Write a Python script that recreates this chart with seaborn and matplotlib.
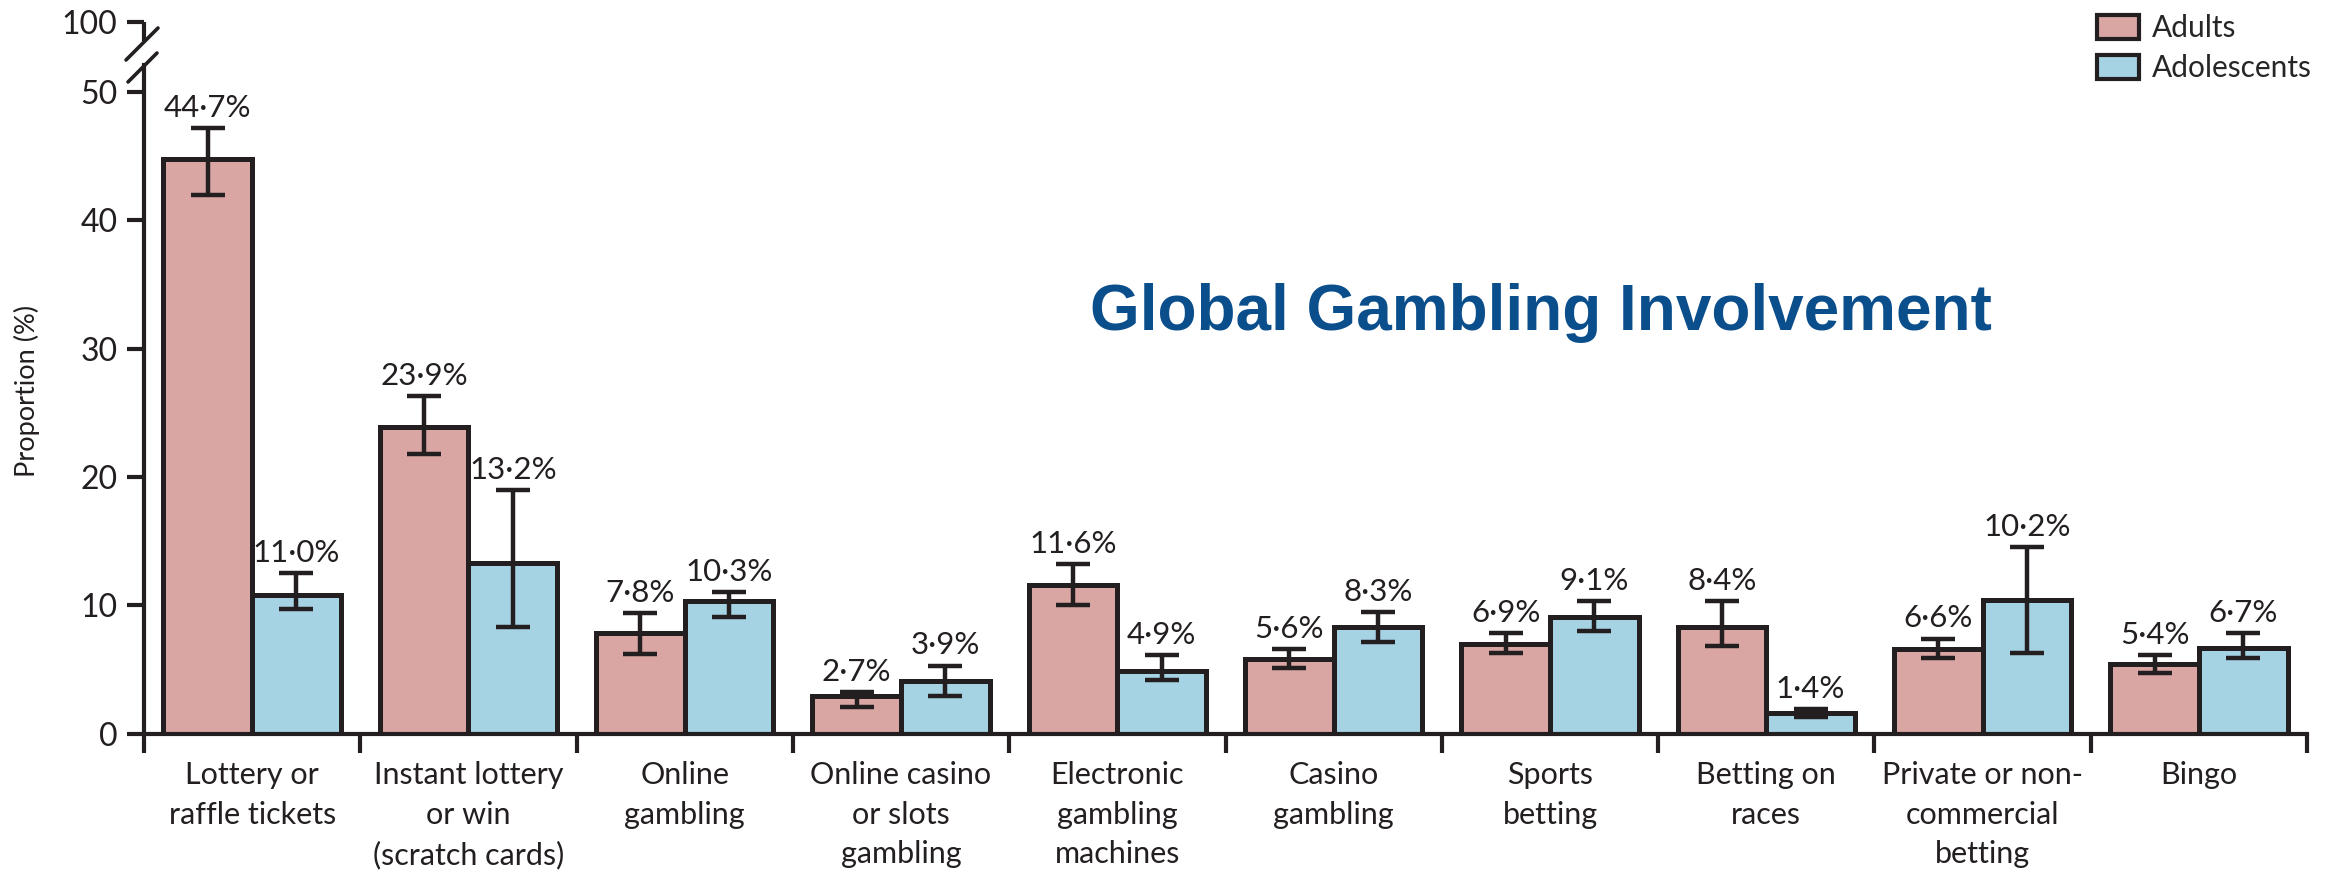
"""
Global gambling involvement: adults vs adolescents, grouped bars with CIs.
"""
import numpy as np
import pandas as pd
import matplotlib
matplotlib.use('Agg')
import matplotlib.pyplot as plt
import seaborn as sns
from matplotlib.lines import Line2D
from matplotlib.transforms import blended_transform_factory

sns.set_style('white')
plt.rcParams['font.family'] = ['Lato', 'DejaVu Sans']

# ──────────────────────────────────────────────────────────────────────
# Data
# ──────────────────────────────────────────────────────────────────────
categories = [
    'Lottery or\nraffle tickets',
    'Instant lottery\nor win\n(scratch cards)',
    'Online\ngambling',
    'Online casino\nor slots\ngambling',
    'Electronic\ngambling\nmachines',
    'Casino\ngambling',
    'Sports\nbetting',
    'Betting on\nraces',
    'Private or non-\ncommercial\nbetting',
    'Bingo',
]
groups = ['Adults', 'Adolescents']

adults = [44.8, 23.9, 7.8, 2.9, 11.6, 5.8, 7.0, 8.3, 6.6, 5.4]
adults_lo = [42.0, 21.8, 6.2, 2.1, 10.0, 5.1, 6.3, 6.8, 5.9, 4.7]
adults_hi = [47.2, 26.3, 9.4, 3.2, 13.2, 6.6, 7.8, 10.3, 7.4, 6.1]
adults_txt = ['44·7%', '23·9%', '7·8%', '2·7%', '11·6%',
              '5·6%', '6·9%', '8·4%', '6·6%', '5·4%']

adolescents = [10.8, 13.3, 10.3, 4.1, 4.9, 8.3, 9.1, 1.6, 10.4, 6.7]
adol_lo = [9.7, 8.3, 9.1, 2.9, 4.2, 7.1, 8.0, 1.3, 6.3, 5.9]
adol_hi = [12.5, 19.0, 11.0, 5.3, 6.1, 9.5, 10.3, 1.9, 14.5, 7.8]
adol_txt = ['11·0%', '13·2%', '10·3%', '3·9%', '4·9%',
            '8·3%', '9·1%', '1·4%', '10·2%', '6·7%']

yticks = [0, 10, 20, 30, 40, 50]

df = pd.DataFrame({
    'Category': categories * 2,
    'Group': [groups[0]] * len(categories) + [groups[1]] * len(categories),
    'Proportion': adults + adolescents,
})

colors = {'Adults': '#d9a6a3', 'Adolescents': '#a6d3e4'}
ink = '#231f20'

# ──────────────────────────────────────────────────────────────────────
# Figure
# ──────────────────────────────────────────────────────────────────────
W, H = 2333, 876
fig = plt.figure(figsize=(W / 100, H / 100), dpi=100)
ax_left, ax_right = 144 / W, 2307 / W
y0_px, px_per_unit = 733.5, 12.83
ymax = 55.6
top_px = y0_px - ymax * px_per_unit
ax = fig.add_axes([ax_left, (H - y0_px) / H, ax_right - ax_left, (y0_px - top_px) / H])

sns.barplot(data=df, x='Category', y='Proportion', hue='Group',
            palette=colors, order=categories, hue_order=groups,
            width=0.82, edgecolor=ink, linewidth=3.6, errorbar=None,
            saturation=1, ax=ax)

ax.set_xlim(-0.5, len(categories) - 0.5)
ax.set_ylim(0, ymax)

# error bars + value labels
for cont, lo, hi, txt in [(ax.containers[0], adults_lo, adults_hi, adults_txt),
                          (ax.containers[1], adol_lo, adol_hi, adol_txt)]:
    xs = [p.get_x() + p.get_width() / 2 for p in cont.patches]
    ys = [p.get_height() for p in cont.patches]
    yerr = [np.array(ys) - np.array(lo), np.array(hi) - np.array(ys)]
    ax.errorbar(xs, ys, yerr=yerr, fmt='none', ecolor=ink, elinewidth=3.2,
                capsize=12, capthick=3.2, zorder=5)
    for x, h, t in zip(xs, hi, txt):
        ax.annotate(t, (x, h), xytext=(0, 8), textcoords='offset points',
                    ha='center', va='baseline', fontsize=22.5, color=ink)

# ──────────────────────────────────────────────────────────────────────
# Axes styling
# ──────────────────────────────────────────────────────────────────────
for s in ['top', 'right']:
    ax.spines[s].set_visible(False)
ax.spines['left'].set_linewidth(3)
ax.spines['bottom'].set_linewidth(3)
ax.spines['left'].set_color(ink)
ax.spines['bottom'].set_color(ink)

# broken y axis: 0-50, then a jump to 100
break_lo, break_hi, top_tick = 52.1, 54.0, 55.45
ax.spines['left'].set_bounds(0, break_lo)
trans = blended_transform_factory(ax.transAxes, ax.transData)
ax.plot([0, 0], [break_hi, top_tick], transform=trans, color=ink,
        lw=3, clip_on=False, solid_capstyle='butt')
for (x1, y1), (x2, y2) in [((126, 60), (158, 28)), ((128, 82), (157, 53))]:
    fig.add_artist(Line2D([x1 / W, x2 / W], [1 - y1 / H, 1 - y2 / H],
                          transform=fig.transFigure, color=ink, lw=2.6))

ax.set_yticks(yticks + [top_tick])
ax.set_yticklabels([str(t) for t in yticks] + ['100'])
ax.tick_params(axis='y', length=12, width=3, color=ink, pad=7,
               labelsize=23, labelcolor=ink, left=True)

ax.set_xticks(range(len(categories)))
ax.set_xticklabels(categories, fontsize=22, color=ink, linespacing=1.5)
ax.set_xticks(np.arange(-0.5, len(categories)), minor=True)
ax.tick_params(axis='x', which='major', length=0, pad=20)
ax.tick_params(axis='x', which='minor', length=14, width=3, color=ink,
               bottom=True)

ax.set_xlabel('')
ax.set_ylabel('Proportion (%)', fontsize=19.5, color=ink)
ax.yaxis.set_label_coords(-0.048, 0.48)

# legend
handles = [plt.Rectangle((0, 0), 1, 1, facecolor=colors[g], edgecolor=ink,
                         linewidth=3) for g in groups]
ax.legend(handles, groups, loc='upper left',
          bbox_to_anchor=(2097 / W, 1 - 14 / H), bbox_transform=fig.transFigure,
          frameon=False, fontsize=21.5, handlelength=1.4, handleheight=0.85,
          handletextpad=0.45, labelspacing=0.4, borderpad=0, borderaxespad=0)

fig.text(1541 / W, 1 - 330 / H, 'Global Gambling Involvement',
         ha='center', va='baseline', fontsize=46, fontweight='bold',
         color='#0b4e8c', family=['Liberation Sans', 'DejaVu Sans'])

fig.savefig('out.png', dpi=100, facecolor='white')
